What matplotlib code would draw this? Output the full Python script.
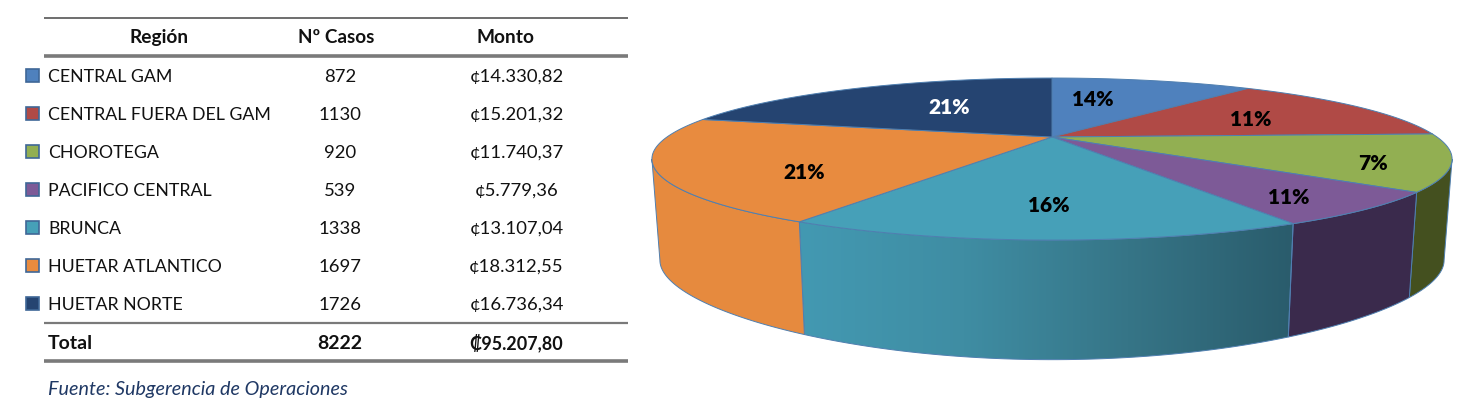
import numpy as np
import matplotlib
matplotlib.use("Agg")
import matplotlib.pyplot as plt
from matplotlib.patches import Polygon, Rectangle
from matplotlib.colors import LinearSegmentedColormap

plt.rcParams['font.family'] = ['Lato', 'DejaVu Sans']

regiones = ["CENTRAL GAM", "CENTRAL FUERA DEL GAM", "CHOROTEGA", "PACIFICO CENTRAL",
            "BRUNCA", "HUETAR ATLANTICO", "HUETAR NORTE"]
casos = [872, 1130, 920, 539, 1338, 1697, 1726]
montos = ["¢14.330,82", "¢15.201,32", "¢11.740,37", "¢5.779,36",
          "¢13.107,04", "¢18.312,55", "¢16.736,34"]
total_casos = "8222"
total_monto = "₡95.207,80"
# printed percentages as published, they do not follow the row order of casos
porcentajes = ["14%", "11%", "7%", "11%", "16%", "21%", "21%"]

colores = ["#4F81BD", "#B04A46", "#92AF52", "#7D5A97", "#46A0B8", "#E88B3F", "#254471"]
colores_lado = ["#4F81BD", "#B04A46", "#44501F", "#3A2A4C", "#4399B2", "#E68A3E", "#254471"]

fig = plt.figure(figsize=(14.63, 4.11), dpi=100)
ax = fig.add_axes([0, 0, 1, 1])
ax.set_xlim(0, 1463)
ax.set_ylim(411, 0)
ax.axis('off')

# ---- table ----
tam = 13.3
gris = "#7A7A7A"
ax.plot([44, 628], [18, 18], color="#555555", lw=1.2, solid_capstyle='butt')
ax.plot([44, 628], [56, 56], color=gris, lw=2.6, solid_capstyle='butt')
ax.plot([44, 628], [323, 323], color=gris, lw=1.6, solid_capstyle='butt')
ax.plot([44, 628], [361, 361], color=gris, lw=2.6, solid_capstyle='butt')

ax.text(159.5, 37.5, "Región", ha='center', va='center', fontsize=13.8, fontweight='bold', color='#111111')
ax.text(336, 37.5, "Nº Casos", ha='center', va='center', fontsize=13.6, fontweight='bold', color='#111111')
ax.text(506, 37.5, "Monto", ha='center', va='center', fontsize=13.8, fontweight='bold', color='#111111')

for i, region in enumerate(regiones):
    y = 76 + 38 * i
    ax.add_patch(Rectangle((25.5, y - 7), 13, 13, facecolor=colores[i], edgecolor="#3F6797", lw=1.2))
    ax.text(48, y + 1, region, ha='left', va='center', fontsize=12.75, color='#111111')
    ax.text(340, y + 1, str(casos[i]), ha='center', va='center', fontsize=tam, color='#111111')
    ax.text(516.5, y + 1, montos[i], ha='center', va='center', fontsize=tam, color='#111111')

ax.text(48, 343, "Total", ha='left', va='center', fontsize=14, fontweight='bold', color='#111111')
ax.text(340, 343, total_casos, ha='center', va='center', fontsize=14, fontweight='bold', color='#111111')
ax.text(516.5, 343, total_monto, ha='center', va='center', fontsize=12.9, fontweight='bold', color='#111111')
ax.text(48, 389, "Fuente: Subgerencia de Operaciones", ha='left', va='center', fontsize=14.2,
        style='italic', color='#1F3864')

# ---- pie in perspective ----
cx, cy = 1052, 137
k = 0.272
ancho, alto = 385, 75
# the lower rim has its own flattening
k_base, alto_base, cy_base = 0.4, 73, 238
borde = "#4F7FB0"


def tapa(theta):
    sx, sy = np.sin(theta), np.cos(theta)
    w = 1 + k * sy
    return cx + ancho * sx / w, cy - alto * sy / w


def base(theta):
    sx, sy = np.sin(theta), np.cos(theta)
    w = 1 + k * sy
    x = cx + 0.98 * ancho * sx / w
    y = cy_base - alto_base * sy / (1 + k_base * sy)
    return x, y


def lado(t0, t1, n=60):
    t = np.linspace(t0, t1, n)
    xa, ya = tapa(t)
    xb, yb = base(t)
    return np.column_stack([np.r_[xa, xb[::-1]], np.r_[ya, yb[::-1]]])


limites = np.radians(np.r_[0, np.cumsum(casos)] / sum(casos) * 360)
vis0 = np.arccos(-k)
vis1 = 2 * np.pi - vis0

# brunca's wall darkens toward the right
degradado = LinearSegmentedColormap.from_list("pared", ["#4399B2", "#3F8DA3", "#367587", "#2A5C6C"])

# sides first, only the front part of the rim shows
for i in range(len(casos)):
    t0 = max(limites[i], vis0)
    t1 = min(limites[i + 1], vis1)
    if t1 <= t0:
        continue
    pts = lado(t0, t1)
    if i == 4:
        forma = Polygon(pts, closed=True, facecolor='none', edgecolor='none', transform=ax.transData)
        ax.add_patch(forma)
        img = ax.imshow(np.linspace(0, 1, 256).reshape(1, -1), cmap=degradado, aspect='auto',
                        extent=(pts[:, 0].min(), pts[:, 0].max(), pts[:, 1].max(), pts[:, 1].min()))
        img.set_clip_path(forma)
        ax.add_patch(Polygon(pts, closed=True, fill=False, edgecolor=borde, lw=0.7))
    else:
        ax.add_patch(Polygon(pts, closed=True, facecolor=colores_lado[i], edgecolor=borde, lw=0.7))
ax.set_xlim(0, 1463)
ax.set_ylim(411, 0)

# top face
for i in range(len(casos)):
    t = np.linspace(limites[i], limites[i + 1], 80)
    xa, ya = tapa(t)
    pts = np.column_stack([np.r_[cx, xa], np.r_[cy, ya]])
    ax.add_patch(Polygon(pts, closed=True, facecolor=colores[i], edgecolor=borde, lw=0.7, zorder=3))

pos_etiquetas = [(1093, 99), (1251, 119), (1373, 163), (1289, 197), (1049, 205), (804, 172), (949, 107)]
for i, texto in enumerate(porcentajes):
    col = 'white' if i == 6 else 'black'
    ax.text(pos_etiquetas[i][0], pos_etiquetas[i][1], texto, ha='center', va='center',
            fontsize=15, fontweight='heavy', color=col, zorder=4)

fig.savefig("out.png", dpi=100)
